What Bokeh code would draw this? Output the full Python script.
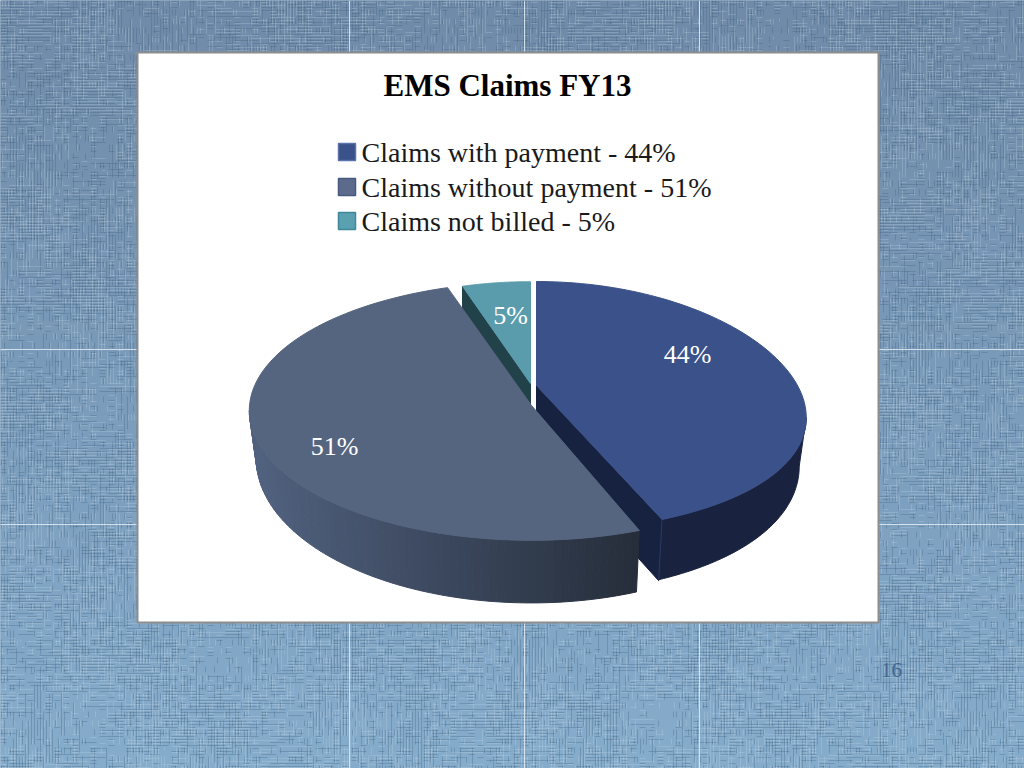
import numpy as np
from bokeh.plotting import figure
from bokeh.core.properties import value
from bokeh.embed import file_html
from bokeh.resources import INLINE

# ---- data
title = "EMS Claims FY13"
categories = ["Claims with payment", "Claims without payment", "Claims not billed"]
shares = [44, 51, 5]
page_number = "16"

# ---- style
top_colors = ["#3a5189", "#56657f", "#5a9cac"]
side_colors = ["#19233f", "#4f5f7b", "#224249"]
cut_colors = ["#172140", "#29313f", "#224249"]
legend_colors = ["#3a5189", "#5c6b8c", "#5aa0b0"]
legend_lines = ["#5a73a8", "#47597f", "#3f8799"]
# per-slice projection: apex x, apex y, half width, half depth, x and y perspective
proj = [(536, 385, 261, 121.5, .2527, .1686),
        (531, 405, 282, 129, .04, .043),
        (530, 383, 241, 112, .1, .1)]
SHRINK, AXIS_X = .975, 525

W, H = 1024, 768
p = figure(width=W, height=H, x_range=(0, W), y_range=(H, 0),
           output_backend="svg", toolbar_location=None, min_border=0,
           outline_line_color=None, background_fill_color="#7a9ab8")
p.axis.visible = False
p.grid.visible = False

# ---- linen background: vertical gradient bands plus a deterministic weave
bands = 48
band_edges = np.linspace(0, H, bands + 1)
c0, c1 = np.array([112, 139, 169]), np.array([134, 172, 204])
band_cols = ["#%02x%02x%02x" % tuple((c0 + (c1 - c0) * k / (bands - 1)).astype(int)) for k in range(bands)]
p.quad(left=0, right=W, top=band_edges[:-1], bottom=band_edges[1:], fill_color=band_cols, line_color=band_cols)

def speck(a, b):
    v = np.sin(a * 12.9898 + b * 78.233) * 43758.5453
    return v - np.floor(v)

def weave(thresh, seed):
    xs, ys = [], []
    along = np.arange(0, 1030, 3.0)
    for k in np.arange(1, 1030, 3.0):
        m = speck(k + seed, np.floor(along / 9)) + .35 * np.sin(along * .021 + k * .017 + seed) * np.sin(k * .05)
        d = np.where(m > thresh, along, np.nan)
        xs.append(np.append(d, np.nan))
        ys.append(np.full(d.size + 1, k))
    return np.concatenate(xs), np.concatenate(ys)

hx, hy = weave(.55, 1.0)
p.line(hx, hy, line_color="#3d5c7c", line_alpha=.30, line_width=1)
vy, vx = weave(.55, 4.0)
p.line(vx, vy, line_color="#3d5c7c", line_alpha=.30, line_width=1)
hx2, hy2 = weave(.6, 7.0)
p.line(hx2, hy2 + 1, line_color="#d5e3ef", line_alpha=.22, line_width=1)
vy2, vx2 = weave(.6, 9.0)
p.line(vx2 + 1, vy2, line_color="#d5e3ef", line_alpha=.22, line_width=1)

# slide guide lines
for gx in (349, 524, 699):
    p.segment(gx, 0, gx, 768, line_color="#dce8f2", line_width=1, line_alpha=.9)
for gy in (349, 524):
    p.segment(0, gy, 1024, gy, line_color="#dce8f2", line_width=1, line_alpha=.9)

# panel
p.quad(left=137, right=878, top=52, bottom=622, fill_color="white",
       line_color="#8d8d8d", line_width=2)

# ---- pie
def rim(i, deg):
    cx, cy, a, b, q, k = proj[i]
    t = np.radians(deg)
    u, v = np.sin(t), np.cos(t)
    return cx + a * u / (1 + q * v), cy - b * v / (1 + k * v)

def lower(x, y):
    y = np.asarray(y)
    return AXIS_X + (np.asarray(x) - AXIS_X) * SHRINK, y + 50 + .115 * (y - 430)

def lerp(c1, c2, f):
    a = [int(c1[j:j + 2], 16) for j in (1, 3, 5)]
    b = [int(c2[j:j + 2], 16) for j in (1, 3, 5)]
    return "#%02x%02x%02x" % tuple(int(round(a[j] + (b[j] - a[j]) * f)) for j in range(3))

edges = np.cumsum([0] + shares) * 3.6

def face(i):
    deg = np.linspace(edges[i], edges[i + 1], 90)
    x, y = rim(i, deg)
    return [proj[i][0], *x], [proj[i][1], *y]

# not billed slice: cut side + top
i = 2
ex, ey = rim(i, np.array([edges[i]]))
ax, ay = proj[i][0], proj[i][1]
p.patch([ax, ex[0], ex[0], ax], [ay, ey[0], ey[0] + 60, ay + 60],
        fill_color=cut_colors[i], line_color=cut_colors[i])
fx, fy = face(i)
p.patch(fx, fy, fill_color=top_colors[i], line_color=top_colors[i])

# with-payment slice: outer side, cut side, top
i = 0
start = np.degrees(np.arccos(-proj[i][4]))
deg = np.linspace(start, edges[1], 60)
x, y = rim(i, deg)
bx, by = lower(x, y)
p.patch([*x, *bx[::-1]], [*y, *by[::-1]], fill_color=side_colors[i], line_color=side_colors[i])
ex, ey = rim(i, np.array([edges[1]]))
lx, ly = lower(ex, ey)
ax, ay = proj[i][0], proj[i][1]
p.patch([ax, ex[0], lx[0], ax], [ay, ey[0], ly[0] + 1, ay + 60],
        fill_color=cut_colors[i], line_color=cut_colors[i])
p.segment(ex[0], ey[0], lx[0], ly[0], line_color="#2b3a63", line_width=1)
fx, fy = face(i)
p.patch(fx, fy, fill_color=top_colors[i], line_color=top_colors[i])

# without-payment slice: shaded rim then top
i = 1
stop = 360 - np.degrees(np.arccos(-proj[i][4]))
deg = np.linspace(edges[1], stop, 70)
x, y = rim(i, deg)
bx, by = lower(x, y)
for j in range(len(deg) - 1):
    f = (x[j] - x.min()) / (x.max() - x.min())
    col = lerp("#516280", "#262e3b", f)
    p.patch([x[j], x[j + 1], bx[j + 1], bx[j]], [y[j], y[j + 1], by[j + 1], by[j]],
            fill_color=col, line_color=col, line_width=1)
fx, fy = face(i)
p.patch(fx, fy, fill_color=top_colors[i], line_color=top_colors[i])

# ---- texts
FONT = value("Liberation Serif")
p.text([507], [85], text=[title], text_font=FONT, text_font_style="bold",
       text_font_size="31px", text_color="#000000", text_align="center", text_baseline="middle")

leg_x = [338] * 3
leg_y = [143, 178, 212]
p.quad(left=leg_x, right=[v + 17 for v in leg_x], top=leg_y, bottom=[v + 17 for v in leg_y],
       fill_color=legend_colors, line_color=legend_lines, line_width=1.5)
p.text([361] * 3, [v + 8.5 for v in leg_y],
       text=[f"{c} - {s}%" for c, s in zip(categories, shares)], text_font=FONT,
       text_font_size="28px", text_color="#1a1a1a", text_align="left", text_baseline="middle")

p.text([687, 334, 510], [354, 446, 315], text=[f"{s}%" for s in shares], text_font=FONT,
       text_font_size="26px", text_color="#ffffff", text_align="center", text_baseline="middle")

p.text([891], [669], text=[page_number], text_font=FONT, text_font_size="21px",
       text_color="#44688c", text_align="center", text_baseline="middle")

open("out.html", "w").write(file_html(p, INLINE))
